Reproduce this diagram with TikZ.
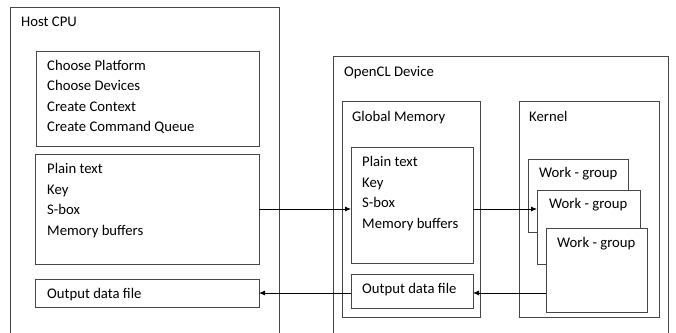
\documentclass[tikz,border=0pt]{standalone}
\usepackage{fontspec}
\setmainfont{Carlito}
\usetikzlibrary{arrows.meta}
\definecolor{edge}{RGB}{70,70,70}
\begin{document}
\begin{tikzpicture}[x=1pt,y=-1pt,
  box/.style={draw=edge,line width=0.8pt,rectangle,inner sep=0pt,outer sep=0pt,anchor=north west},
  wgbox/.style={box,fill=white},
  txt/.style={anchor=north west,inner sep=0pt,align=left,font=\fontsize{14.7}{20.5}\selectfont},
  arr/.style={draw=black,line width=0.8pt,-{Latex[length=6pt,width=5pt]}}]
\useasboundingbox (0,0) rectangle (676,332);
\clip (0,0) rectangle (676,332);
\fill[white] (0,0) rectangle (676,332);
% Host CPU
\node[box,minimum width=269,minimum height=340] (host) at (10,7) {};
\node[txt] (hostlbl) at (21,16.5) {Host CPU};
\node[box,minimum width=223,minimum height=95] (hsetup) at (36,51) {};
\node[txt] (hsetuptxt) at (47,60) {Choose Platform\\Choose Devices\\Create Context\\Create Command Queue};
\node[box,minimum width=224,minimum height=110] (hdata) at (35,154) {};
\node[txt] (hdatatxt) at (47,163.5) {Plain text\\Key\\S-box\\Memory buffers};
\node[box,minimum width=224,minimum height=28] (hout) at (35,279) {};
\node[txt] (houttxt) at (47,288.5) {Output data file};
% OpenCL Device
\node[box,minimum width=335,minimum height=300] (dev) at (333,56) {};
\node[txt] (devlbl) at (344,66.5) {OpenCL Device};
\node[box,minimum width=138,minimum height=216] (gm) at (342,101) {};
\node[txt] (gmlbl) at (352,111.5) {Global Memory};
\node[box,minimum width=122,minimum height=116] (gmdata) at (351,147) {};
\node[txt] (gmdatatxt) at (362,156.5) {Plain text\\Key\\S-box\\Memory buffers};
\node[box,minimum width=122,minimum height=34] (gmout) at (351,274) {};
\node[txt] (gmouttxt) at (362,283.5) {Output data file};
\node[box,minimum width=140,minimum height=216] (kern) at (519,101) {};
\node[txt] (kernlbl) at (529,111.5) {Kernel};
\node[wgbox,minimum width=100,minimum height=73] (wg1) at (528,159) {};
\node[txt] (wg1txt) at (539,167.5) {Work - group};
\node[wgbox,minimum width=103,minimum height=74] (wg2) at (537,190) {};
\node[txt] (wg2txt) at (549,198.5) {Work - group};
\node[wgbox,minimum width=101,minimum height=84] (wg3) at (546,228) {};
\node[txt] (wg3txt) at (557,237.5) {Work - group};
% connectors
\draw[arr] (hdata.east) -- (hdata.east -| gmdata.west);
\draw[arr] (gmdata.east |- hdata.east) -- (wg2.west |- hdata.east);
\draw[arr] (wg3.west |- hout.east) -- (gmout.east |- hout.east);
\draw[arr] (gmout.west |- hout.east) -- (hout.east);
\end{tikzpicture}
\end{document}
